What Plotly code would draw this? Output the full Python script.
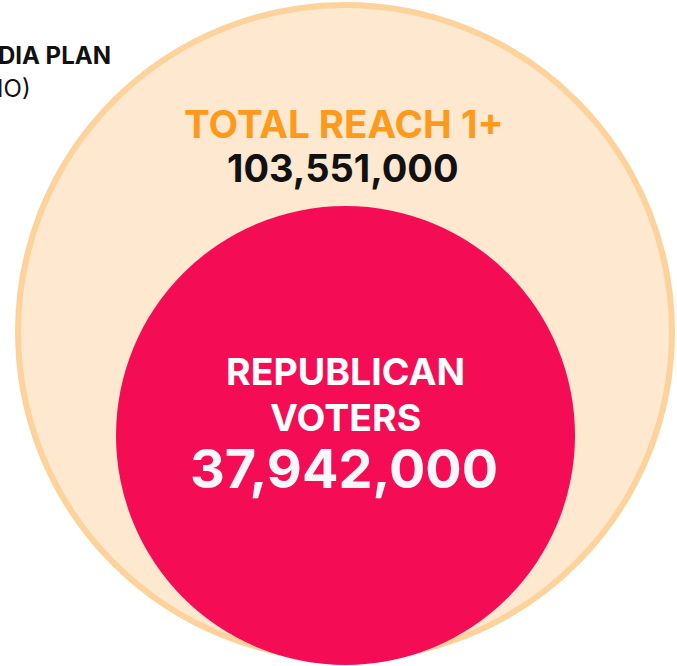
import plotly.graph_objects as go

# Audience figures
total_label = "TOTAL REACH 1+"
total_value = 103551000
segment_label = ["REPUBLICAN", "VOTERS"]
segment_value = 37942000
plan_title = ["MEDIA PLAN", "(RADIO)"]

# Layout geometry (pixels, y grows downward)
W, H = 677, 666
outer = dict(cx=345, cy=332, r=327, line=6)
inner = dict(cx=345.5, cy=435.5, r=229.5)

PEACH = "#FEE8CF"
PEACH_LINE = "#FDD39B"
PINK = "#F40C55"
ORANGE = "#FD9A1C"
FONT = "Inter"

fig = go.Figure()

fig.add_shape(type="circle", xref="x", yref="y",
              x0=outer["cx"] - outer["r"], x1=outer["cx"] + outer["r"],
              y0=outer["cy"] - outer["r"], y1=outer["cy"] + outer["r"],
              fillcolor=PEACH, line=dict(color=PEACH_LINE, width=outer["line"]),
              layer="below")
fig.add_shape(type="circle", xref="x", yref="y",
              x0=inner["cx"] - inner["r"], x1=inner["cx"] + inner["r"],
              y0=inner["cy"] - inner["r"], y1=inner["cy"] + inner["r"],
              fillcolor=PINK, line=dict(width=0), layer="below")


def label(text, x, y, size, color, weight=700, xanchor="center"):
    fig.add_annotation(text=text, x=x, y=y, xref="x", yref="y",
                       xanchor=xanchor, yanchor="middle", showarrow=False,
                       font=dict(family=FONT, size=size, color=color, weight=weight))


label(total_label, 344, 124, 38.5, ORANGE)
label(f"{total_value:,}", 343, 168, 38, "#111111")
label(segment_label[0], 345, 371, 37.5, "#FFFFFF")
label(segment_label[1], 345, 417, 37.5, "#FFFFFF")
label(f"{segment_value:,}", 344, 468, 54, "#F7F7F9")

label(plan_title[0], 113, 55, 24, "#111111", xanchor="right")
label(plan_title[1], 33, 88, 24, "#111111", weight=400, xanchor="right")

fig.update_xaxes(range=[0, W], visible=False, fixedrange=True)
fig.update_yaxes(range=[H, 0], visible=False, fixedrange=True)
fig.update_layout(width=W, height=H, margin=dict(l=0, r=0, t=0, b=0),
                  paper_bgcolor="white", plot_bgcolor="white", showlegend=False)

fig.write_html("out.html", config={"displayModeBar": False})
